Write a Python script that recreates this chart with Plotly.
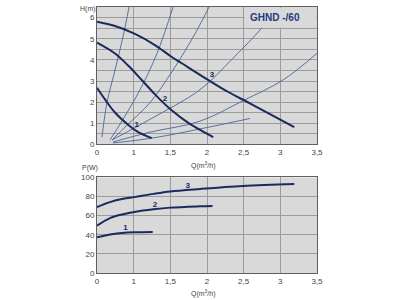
import plotly.graph_objects as go

# x positions are in axis units (gridlines every 0.5), labelled as in the original
tick_pos = [0, 0.5, 1, 1.5, 2, 2.5, 3]
tick_text = ["0", "1", "1,5", "2", "2,5", "3", "3,5"]

# Head curves H(m)
h1_q = [0, 0.109, 0.245, 0.428, 0.563, 0.746]
h1 = [2.68, 2.13, 1.51, 0.92, 0.58, 0.30]
h2_q = [0, 0.245, 0.428, 0.61, 0.79, 1.01, 1.245, 1.585]
h2 = [4.81, 4.30, 3.72, 3.05, 2.37, 1.64, 1.02, 0.35]
h3_q = [0, 0.245, 0.51, 0.79, 1.01, 1.155, 1.52, 1.79, 2.11, 2.69]
h3 = [5.8, 5.6, 5.24, 4.70, 4.16, 3.84, 3.04, 2.48, 1.90, 0.82]

# System curves (thin)
sa_q = [0.068, 0.136, 0.246, 0.355, 0.437]
sa = [0.35, 1.98, 3.52, 5.10, 6.50]
sb_q = [0.177, 0.355, 0.587, 0.819, 1.037]
sb = [0.21, 1.19, 2.59, 4.31, 6.50]
sc_q = [0.205, 0.409, 0.723, 1.037, 1.337, 1.528]
sc = [0.21, 0.91, 1.98, 3.52, 5.24, 6.50]
sd_q = [0.205, 0.723, 1.405, 1.855, 2.25, 2.456]
sd = [0.21, 1.19, 2.59, 4.08, 5.52, 6.45]
se_q = [0.218, 0.723, 1.405, 1.992, 2.537, 3.0]
se = [0.12, 0.58, 1.10, 2.07, 3.05, 4.31]
sf_q = [0.218, 0.75, 1.583, 2.087]
sf = [0.07, 0.30, 0.86, 1.23]

# Power curves P(W)
p1_q = [0, 0.222, 0.51, 0.76]
p1 = [37.4, 40.9, 42.6, 43.0]
p2_q = [0, 0.177, 0.359, 0.51, 0.77, 1.0, 1.405, 1.576]
p2 = [49.5, 57.5, 61.5, 63.9, 66.7, 68.4, 69.8, 70.2]
p3_q = [0, 0.177, 0.359, 0.51, 0.77, 1.0, 1.405, 1.992, 2.69]
p3 = [69.1, 74.2, 77.6, 79.4, 82.8, 85.3, 87.9, 91.0, 93.1]

# Curve number labels
lab_text = ["1", "2", "3"]
lab_h_q = [0.541, 0.928, 1.569]
lab_h = [0.92, 2.13, 3.29]
lab_p_q = [0.39, 0.79, 1.237]
lab_p = [46.7, 70.8, 90.7]

NAVY = "#1b2a5c"
THIN = "#4a6595"
GRID = "#9c9c9c"
BG = "#d9d9d9"
FONT = "Liberation Sans"

fig = go.Figure()

for qx, yy in [(sa_q, sa), (sb_q, sb), (sc_q, sc), (sd_q, sd), (se_q, se), (sf_q, sf)]:
    fig.add_trace(go.Scatter(x=qx, y=yy, mode="lines", line=dict(color=THIN, width=0.9, shape="spline"),
                             xaxis="x", yaxis="y", showlegend=False, hoverinfo="skip"))
for qx, yy in [(h1_q, h1), (h2_q, h2), (h3_q, h3)]:
    fig.add_trace(go.Scatter(x=qx, y=yy, mode="lines", line=dict(color=NAVY, width=2, shape="spline"),
                             xaxis="x", yaxis="y", showlegend=False))
for qx, yy in [(p1_q, p1), (p2_q, p2), (p3_q, p3)]:
    fig.add_trace(go.Scatter(x=qx, y=yy, mode="lines", line=dict(color=NAVY, width=2, shape="spline"),
                             xaxis="x2", yaxis="y2", showlegend=False))

fig.add_trace(go.Scatter(x=lab_h_q, y=lab_h, text=lab_text, mode="text",
                         textfont=dict(family=FONT, size=8, color=NAVY, weight="bold"),
                         xaxis="x", yaxis="y", showlegend=False))
fig.add_trace(go.Scatter(x=lab_p_q, y=lab_p, text=lab_text, mode="text",
                         textfont=dict(family=FONT, size=8, color=NAVY, weight="bold"),
                         xaxis="x2", yaxis="y2", showlegend=False))

axis_common = dict(showline=True, mirror=True, linecolor="#606060", linewidth=1,
                   gridcolor=GRID, gridwidth=0.8, zeroline=False, ticks="",
                   tickfont=dict(family=FONT, size=8, color="#444444"))

ann_font = dict(family=FONT, size=7, color="#444444")

fig.update_layout(
    width=400, height=300,
    margin=dict(l=97, r=83, t=3, b=27),
    paper_bgcolor="white", plot_bgcolor=BG,
    xaxis=dict(domain=[0, 1], range=[0, 3], tickvals=tick_pos, ticktext=tick_text,
               anchor="y", **axis_common),
    yaxis=dict(domain=[0.4833, 1], range=[0, 6.5], tickvals=[0, 1, 2, 3, 4, 5, 6],
               minor=dict(dtick=0.5, showgrid=True, gridcolor=GRID, gridwidth=0.8),
               anchor="x", **axis_common),
    xaxis2=dict(domain=[0, 1], range=[0, 3], tickvals=tick_pos, ticktext=tick_text,
                anchor="y2", **axis_common),
    yaxis2=dict(domain=[0, 0.3593], range=[0, 100], tickvals=[0, 20, 40, 60, 80, 100],
                anchor="x2", **axis_common),
    shapes=[dict(type="rect", xref="x", yref="y", x0=2.012, x1=2.992, y0=5.52, y1=6.47,
                 fillcolor=BG, line=dict(width=0), layer="above")],
    annotations=[
        dict(text="<b>GHND -/60</b>", xref="x", yref="y", x=2.43, y=6.0, showarrow=False,
             xanchor="center", yanchor="middle",
             font=dict(family=FONT, size=10, color="#1f3a80")),
        dict(text="H(m)", xref="paper", yref="paper", x=-0.041, y=0.992, showarrow=False,
             xanchor="center", yanchor="middle", font=ann_font),
        dict(text="P(W)", xref="paper", yref="paper", x=-0.032, y=0.396, showarrow=False,
             xanchor="center", yanchor="middle", font=ann_font),
        dict(text="Q(m<sup>3</sup>/h)", xref="paper", yref="paper", x=0.486, y=0.4037, showarrow=False,
             xanchor="center", yanchor="middle", font=ann_font),
        dict(text="Q(m<sup>3</sup>/h)", xref="paper", yref="paper", x=0.486, y=-0.0778, showarrow=False,
             xanchor="center", yanchor="middle", font=ann_font),
    ],
)

fig.write_html("out.html")
